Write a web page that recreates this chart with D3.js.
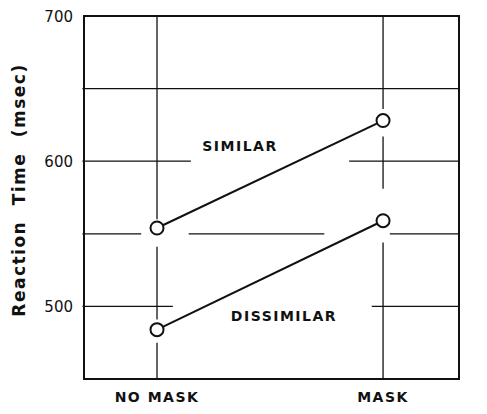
<!DOCTYPE html>
<html><head><meta charset="utf-8">
<script src="https://cdn.jsdelivr.net/npm/d3@7"></script>
<style>body{margin:0;background:#fff}text{font-family:"DejaVu Sans",sans-serif;fill:#111}</style>
</head><body><div id="chart"></div>
<script>
var conditions = ["NO MASK", "MASK"];
var similar = [554, 628];
var dissimilar = [484, 559];
var yTicks = [500, 600, 700];
// grid segments: [value, from, to]
var hGrid = [[650, -0.33, 1.34], [600, -0.33, 0.15], [600, 0.85, 1.34],
  [550, -0.33, -0.07], [550, 0.14, 0.74], [550, 1.03, 1.34],
  [500, -0.33, 0.07], [500, 0.95, 1.34]];
var vGrid = [[0, 700, 560], [0, 541, 491], [0, 475, 450],
  [1, 700, 636], [1, 617, 581], [1, 544, 450]];

var width = 487, height = 414;
var x = d3.scaleLinear().domain([-0.323, 1.336]).range([84, 459]);
var y = d3.scaleLinear().domain([450, 700]).range([379, 16]);

var svg = d3.select("#chart").append("svg").attr("width", width).attr("height", height);
var ink = "#111";

svg.append("rect").attr("x", x(-0.323)).attr("y", y(700))
  .attr("width", x(1.336) - x(-0.323)).attr("height", y(450) - y(700))
  .attr("fill", "none").attr("stroke", ink).attr("stroke-width", 2);

svg.selectAll(".hg").data(hGrid).enter().append("line")
  .attr("x1", d => x(d[1])).attr("x2", d => x(d[2]))
  .attr("y1", d => y(d[0])).attr("y2", d => y(d[0]))
  .attr("stroke", ink).attr("stroke-width", 1.3);
svg.selectAll(".vg").data(vGrid).enter().append("line")
  .attr("x1", d => x(d[0])).attr("x2", d => x(d[0]))
  .attr("y1", d => y(d[1])).attr("y2", d => y(d[2]))
  .attr("stroke", ink).attr("stroke-width", 1.3);

var line = d3.line().x((d, i) => x(i)).y(d => y(d));
[similar, dissimilar].forEach(function(s) {
  svg.append("path").attr("d", line(s)).attr("fill", "none")
    .attr("stroke", ink).attr("stroke-width", 2);
  svg.selectAll(null).data(s).enter().append("circle")
    .attr("cx", (d, i) => x(i)).attr("cy", d => y(d)).attr("r", 6.5)
    .attr("fill", "#fff").attr("stroke", ink).attr("stroke-width", 2);
});

svg.selectAll(".yt").data(yTicks).enter().append("text")
  .attr("x", 73).attr("y", d => y(d) + 6).attr("text-anchor", "end")
  .attr("font-size", 15).text(d => d);
svg.selectAll(".xt").data(conditions).enter().append("text")
  .attr("x", (d, i) => x(i)).attr("y", 402).attr("text-anchor", "middle")
  .attr("font-size", 14).attr("font-weight", "bold").attr("letter-spacing", 1.5).text(d => d);

svg.append("text").attr("transform", "translate(25,190) rotate(-90)")
  .attr("text-anchor", "middle").attr("font-size", 17).attr("font-weight", "bold")
  .attr("letter-spacing", 1.5).attr("word-spacing", 8).text("Reaction Time (msec)");

svg.append("text").attr("x", 240).attr("y", 151).attr("text-anchor", "middle")
  .attr("font-size", 14).attr("font-weight", "bold").attr("letter-spacing", 1.5).text("SIMILAR");
svg.append("text").attr("x", 284).attr("y", 321).attr("text-anchor", "middle")
  .attr("font-size", 14).attr("font-weight", "bold").attr("letter-spacing", 1.5).text("DISSIMILAR");
</script></body></html>
